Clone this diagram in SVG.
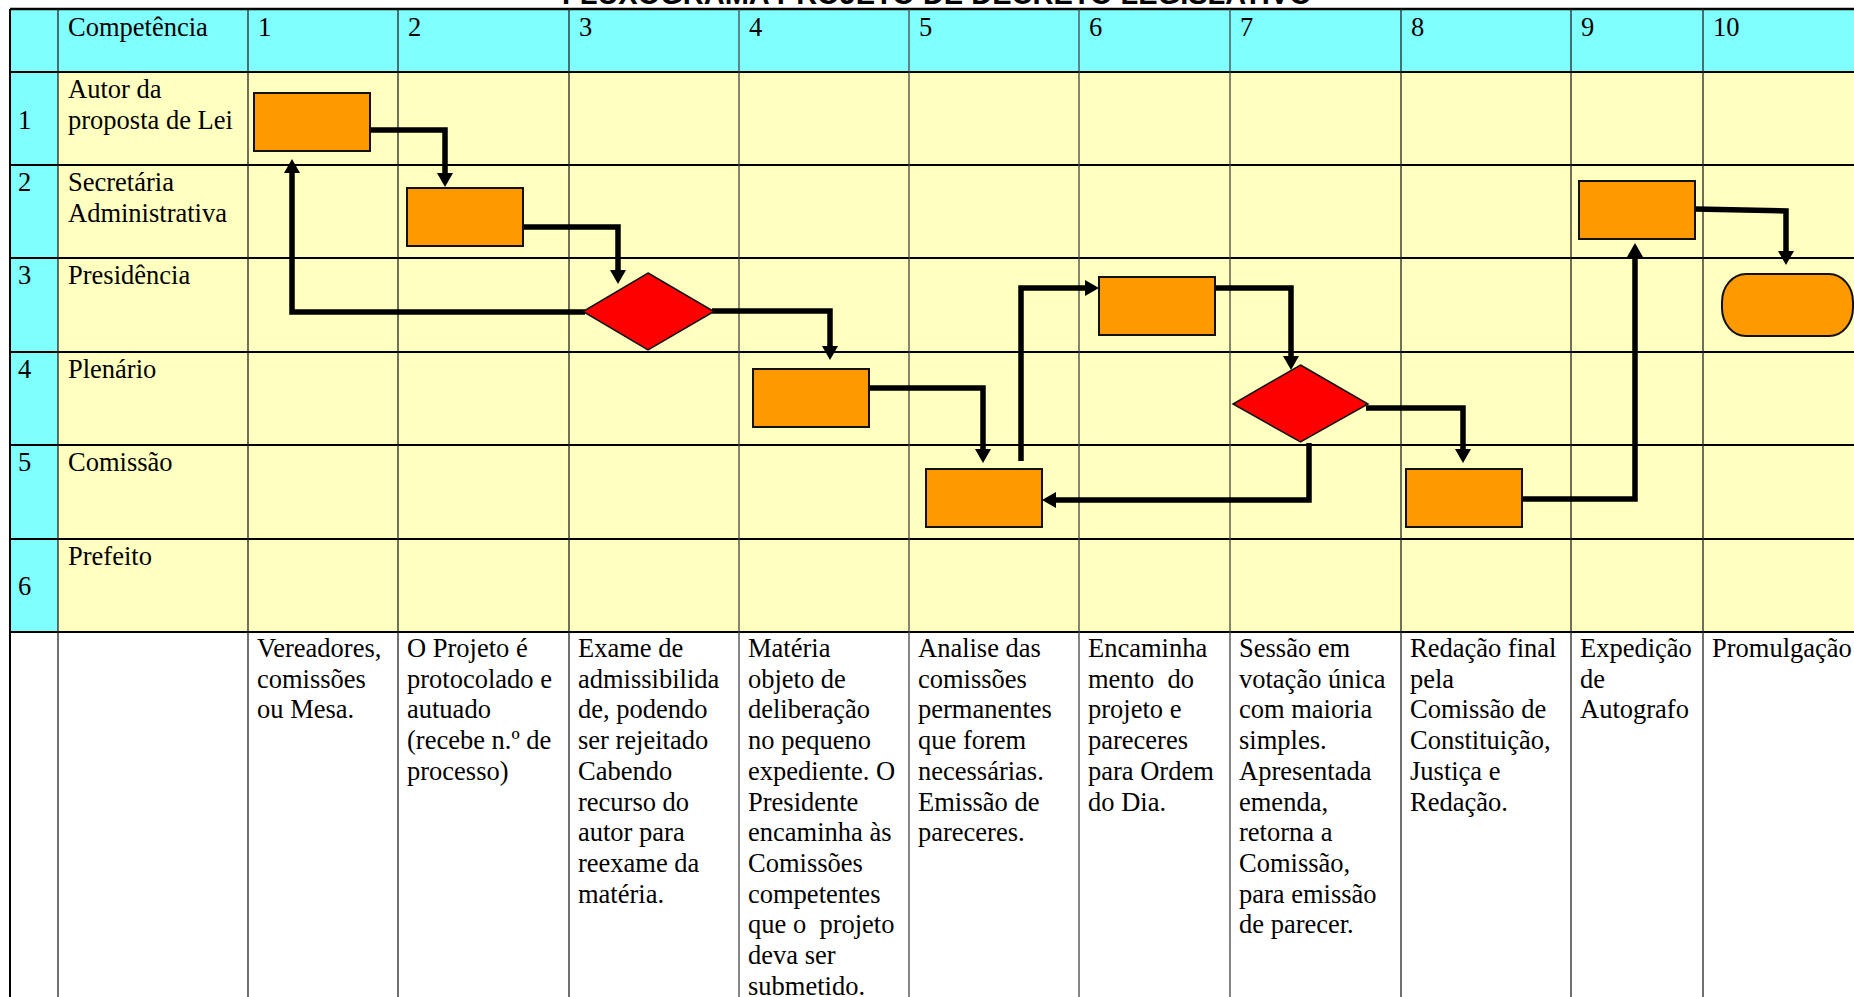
<svg xmlns="http://www.w3.org/2000/svg" width="1854" height="997" viewBox="0 0 1854 997">
<style>
.t{font-family:"Liberation Serif","Times New Roman",serif;font-size:26.5px;fill:#000}
.pre{white-space:pre}
.title{font-family:"Liberation Sans",Arial,sans-serif;font-weight:bold;font-size:29px;fill:#000}
.hl{stroke:#000;stroke-width:1.8}
.vl{stroke:#222;stroke-width:1.3}
.box{fill:#FF9900;stroke:#111;stroke-width:2}
.dia{fill:#FF0000;stroke:#111;stroke-width:1.5}
.con{fill:none;stroke:#000;stroke-width:5.5;marker-end:url(#ah)}
</style>
<defs>
<marker id="ah" markerUnits="userSpaceOnUse" markerWidth="16" markerHeight="16" refX="0" refY="8" orient="auto" overflow="visible">
<path d="M0,0 L14,8 L0,16 Z" fill="#000"/>
</marker>
</defs>
<rect width="1854" height="997" fill="#fff"/>
<text class="title" x="562" y="4">FLUXOGRAMA PROJETO DE DECRETO LEGISLATIVO</text>
<g id="grid">
<rect x="10" y="9" width="1844" height="63" fill="#80FFFF"/>
<rect x="10" y="72" width="48" height="560" fill="#80FFFF"/>
<rect x="58" y="72" width="1796" height="560" fill="#FFFFC0"/>
<rect x="10" y="632" width="1844" height="365" fill="#fff"/>
<line class="hl" x1="10" y1="9" x2="1854" y2="9" style="stroke-width:2.5"/>
<line class="hl" x1="10" y1="72" x2="1854" y2="72"/>
<line class="hl" x1="10" y1="165" x2="1854" y2="165"/>
<line class="hl" x1="10" y1="258" x2="1854" y2="258"/>
<line class="hl" x1="10" y1="352" x2="1854" y2="352"/>
<line class="hl" x1="10" y1="445" x2="1854" y2="445"/>
<line class="hl" x1="10" y1="539" x2="1854" y2="539"/>
<line class="hl" x1="10" y1="632" x2="1854" y2="632"/>
<line class="vl" x1="10" y1="9" x2="10" y2="997" style="stroke-width:2;stroke:#000"/>
<line class="vl" x1="58" y1="9" x2="58" y2="997"/>
<line class="vl" x1="248" y1="9" x2="248" y2="997"/>
<line class="vl" x1="398" y1="9" x2="398" y2="997"/>
<line class="vl" x1="569" y1="9" x2="569" y2="997"/>
<line class="vl" x1="739" y1="9" x2="739" y2="997" style="stroke:#444"/>
<line class="vl" x1="909" y1="9" x2="909" y2="997" style="stroke:#444"/>
<line class="vl" x1="1079" y1="9" x2="1079" y2="997" style="stroke:#444"/>
<line class="vl" x1="1230" y1="9" x2="1230" y2="997" style="stroke:#444"/>
<line class="vl" x1="1401" y1="9" x2="1401" y2="997"/>
<line class="vl" x1="1571" y1="9" x2="1571" y2="997"/>
<line class="vl" x1="1703" y1="9" x2="1703" y2="997"/>
</g>
<g id="header">
<text class="t" x="68" y="36">Competência</text>
<text class="t" x="258" y="36">1</text>
<text class="t" x="408" y="36">2</text>
<text class="t" x="579" y="36">3</text>
<text class="t" x="749" y="36">4</text>
<text class="t" x="919" y="36">5</text>
<text class="t" x="1089" y="36">6</text>
<text class="t" x="1240" y="36">7</text>
<text class="t" x="1411" y="36">8</text>
<text class="t" x="1581" y="36">9</text>
<text class="t" x="1713" y="36">10</text>
</g>
<g id="lanes">
<text class="t" x="18" y="129">1</text>
<text class="t" x="68" y="98">Autor da</text>
<text class="t" x="68" y="129">proposta de Lei</text>
<text class="t" x="18" y="191">2</text>
<text class="t" x="68" y="191">Secretária</text>
<text class="t" x="68" y="222">Administrativa</text>
<text class="t" x="18" y="284">3</text>
<text class="t" x="68" y="284">Presidência</text>
<text class="t" x="18" y="378">4</text>
<text class="t" x="68" y="378">Plenário</text>
<text class="t" x="18" y="471">5</text>
<text class="t" x="68" y="471">Comissão</text>
<text class="t" x="18" y="595">6</text>
<text class="t" x="68" y="565">Prefeito</text>
</g>
<g id="descriptions">
<text class="t" x="257" y="657"><tspan x="257">Vereadores,</tspan><tspan x="257" dy="30.7">comissões</tspan><tspan x="257" dy="30.7">ou Mesa.</tspan></text>
<text class="t" x="407" y="657"><tspan x="407">O Projeto é</tspan><tspan x="407" dy="30.7">protocolado e</tspan><tspan x="407" dy="30.7">autuado</tspan><tspan x="407" dy="30.7">(recebe n.º de</tspan><tspan x="407" dy="30.7">processo)</tspan></text>
<text class="t" x="578" y="657"><tspan x="578">Exame de</tspan><tspan x="578" dy="30.7">admissibilida</tspan><tspan x="578" dy="30.7">de, podendo</tspan><tspan x="578" dy="30.7">ser rejeitado</tspan><tspan x="578" dy="30.7">Cabendo</tspan><tspan x="578" dy="30.7">recurso do</tspan><tspan x="578" dy="30.7">autor para</tspan><tspan x="578" dy="30.7">reexame da</tspan><tspan x="578" dy="30.7">matéria.</tspan></text>
<text class="t pre" x="748" y="657"><tspan x="748">Matéria</tspan><tspan x="748" dy="30.7">objeto de</tspan><tspan x="748" dy="30.7">deliberação</tspan><tspan x="748" dy="30.7">no pequeno</tspan><tspan x="748" dy="30.7">expediente. O</tspan><tspan x="748" dy="30.7">Presidente</tspan><tspan x="748" dy="30.7">encaminha às</tspan><tspan x="748" dy="30.7">Comissões</tspan><tspan x="748" dy="30.7">competentes</tspan><tspan x="748" dy="30.7">que o  projeto</tspan><tspan x="748" dy="30.7">deva ser</tspan><tspan x="748" dy="30.7">submetido.</tspan></text>
<text class="t" x="918" y="657"><tspan x="918">Analise das</tspan><tspan x="918" dy="30.7">comissões</tspan><tspan x="918" dy="30.7">permanentes</tspan><tspan x="918" dy="30.7">que forem</tspan><tspan x="918" dy="30.7">necessárias.</tspan><tspan x="918" dy="30.7">Emissão de</tspan><tspan x="918" dy="30.7">pareceres.</tspan></text>
<text class="t pre" x="1088" y="657"><tspan x="1088">Encaminha</tspan><tspan x="1088" dy="30.7">mento  do</tspan><tspan x="1088" dy="30.7">projeto e</tspan><tspan x="1088" dy="30.7">pareceres</tspan><tspan x="1088" dy="30.7">para Ordem</tspan><tspan x="1088" dy="30.7">do Dia.</tspan></text>
<text class="t" x="1239" y="657"><tspan x="1239">Sessão em</tspan><tspan x="1239" dy="30.7">votação única</tspan><tspan x="1239" dy="30.7">com maioria</tspan><tspan x="1239" dy="30.7">simples.</tspan><tspan x="1239" dy="30.7">Apresentada</tspan><tspan x="1239" dy="30.7">emenda,</tspan><tspan x="1239" dy="30.7">retorna a</tspan><tspan x="1239" dy="30.7">Comissão,</tspan><tspan x="1239" dy="30.7">para emissão</tspan><tspan x="1239" dy="30.7">de parecer.</tspan></text>
<text class="t" x="1410" y="657"><tspan x="1410">Redação final</tspan><tspan x="1410" dy="30.7">pela</tspan><tspan x="1410" dy="30.7">Comissão de</tspan><tspan x="1410" dy="30.7">Constituição,</tspan><tspan x="1410" dy="30.7">Justiça e</tspan><tspan x="1410" dy="30.7">Redação.</tspan></text>
<text class="t" x="1580" y="657"><tspan x="1580">Expedição</tspan><tspan x="1580" dy="30.7">de</tspan><tspan x="1580" dy="30.7">Autografo</tspan></text>
<text class="t" x="1712" y="657">Promulgação</text>
</g>
<g id="connectors">
<path class="con" d="M370,130 H445 V173"/>
<path class="con" d="M523,227 H618 V270"/>
<path class="con" d="M585,312 H292 V173"/>
<path class="con" d="M712,311 H830 V346"/>
<path class="con" d="M869,388 H983 V449"/>
<path class="con" d="M1021,461 V288 H1085"/>
<path class="con" d="M1215,288 H1291 V356"/>
<path class="con" d="M1309,443 V500 H1056"/>
<path class="con" d="M1366,408 H1463 V449"/>
<path class="con" d="M1522,499 H1635 V257"/>
<path class="con" d="M1695,209 L1786,211 V251"/>
</g>
<g id="n1"><rect class="box" x="254" y="93" width="116" height="58"/></g>
<g id="n2"><rect class="box" x="407" y="188" width="116" height="58"/></g>
<g id="d1"><polygon class="dia" points="648,273 714,311.5 648,350 583,311.5"/></g>
<g id="n3"><rect class="box" x="753" y="369" width="116" height="58"/></g>
<g id="n4"><rect class="box" x="926" y="469" width="116" height="58"/></g>
<g id="n5"><rect class="box" x="1099" y="277" width="116" height="58"/></g>
<g id="d2"><polygon class="dia" points="1300.5,365 1368,404 1300.5,442 1233,404"/></g>
<g id="n6"><rect class="box" x="1406" y="469" width="116" height="58"/></g>
<g id="n7"><rect class="box" x="1579" y="181" width="116" height="58"/></g>
<g id="end"><rect class="box" x="1722" y="274" width="131" height="62" rx="24" ry="28"/></g>
</svg>
